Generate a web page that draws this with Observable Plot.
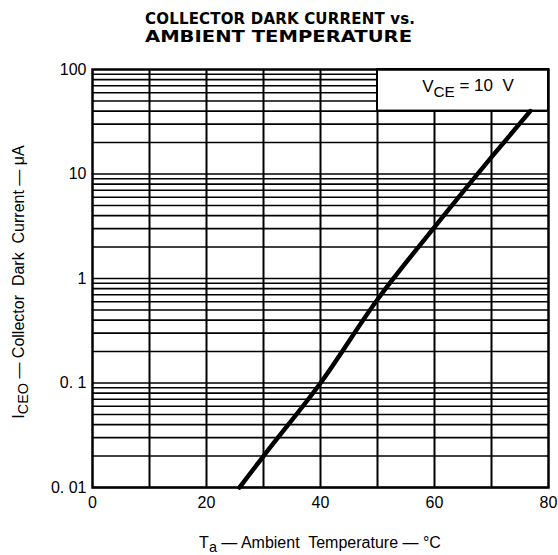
<!DOCTYPE html>
<html>
<head>
<meta charset="utf-8">
<script src="https://cdn.jsdelivr.net/npm/d3@7"></script>
<script src="https://cdn.jsdelivr.net/npm/@observablehq/plot@0.6"></script>
<style>
  html, body { margin: 0; padding: 0; background: white; }
  #chart svg { display: block; }
</style>
</head>
<body>
<div id="chart"></div>
<script>
// ---- data ----
const temps = [25.8, 30, 40, 50, 60, 70, 76.8];          // Ta (°C)
const current = [0.01, 0.02, 0.1, 0.63, 3.1, 14.5, 40];   // ICEO (µA)
const xTicks = [0, 20, 40, 60, 80];
const xGrid = [10, 20, 30, 40, 50, 60, 70];
const yTicks = [0.01, 0.1, 1, 10, 100];
const yTickLabels = ["0. 01", "0. 1", "1", "10", "100"];
const decades = [0.01, 0.1, 1, 10];
const mantissas = [1, 2, 3, 4, 5, 6, 7, 8, 9];
const legendX = [50, 80];
const legendY = [40, 100];
const titleLines = ["COLLECTOR DARK CURRENT vs.", "AMBIENT TEMPERATURE"];

const yGrid = decades.flatMap(d => mantissas.map(m => +(d * m).toPrecision(3)));
const data = temps.map((t, i) => ({t, c: current[i]}));
const legendBox = [{x1: legendX[0], x2: legendX[1], y1: legendY[0], y2: legendY[1]}];

const chart = Plot.plot({
  width: 558,
  height: 555,
  marginTop: 69,
  marginBottom: 68,
  marginLeft: 92,
  marginRight: 10,
  style: {fontFamily: "Liberation Sans, Arial, sans-serif", fontSize: "16px", background: "white", color: "black"},
  x: {domain: [0, 80], label: null},
  y: {type: "log", domain: [0.01, 100], label: null},
  marks: [
    Plot.ruleX(xGrid, {stroke: "black", strokeWidth: 2}),
    Plot.ruleY(yGrid, {stroke: "black", strokeWidth: 1.6}),
    Plot.rect(legendBox, {x1: "x1", x2: "x2", y1: "y1", y2: "y2", fill: "white", stroke: "black", strokeWidth: 2}),
    Plot.frame({stroke: "black", strokeWidth: 2.5}),
    Plot.line(data, {x: "t", y: "c", stroke: "black", strokeWidth: 4.5, curve: "monotone-x"}),
    Plot.axisX({ticks: xTicks, tickSize: 0, tickPadding: 9, tickFormat: d => String(d), fontSize: 16}),
    Plot.axisY({ticks: yTicks, tickSize: 0, tickPadding: 6, tickFormat: d => yTickLabels[yTicks.indexOf(d)], fontSize: 16})
  ]
});

document.getElementById("chart").appendChild(chart);

// ---- text with subscripts, added to the same SVG ----
const svg = d3.select(chart);
const font = "Liberation Sans, Arial, sans-serif";

// Title
titleLines.forEach((line, i) => {
  svg.append("text")
    .attr("x", 145).attr("y", 24 + i * 18)
    .attr("text-anchor", "start")
    .attr("font-family", "DejaVu Sans, sans-serif").attr("font-weight", "bold").attr("font-size", 15)
    .attr("textLength", i === 0 ? 270 : 267).attr("lengthAdjust", i === 0 ? "spacing" : "spacingAndGlyphs")
    .attr("fill", "black")
    .text(line);
});

function addSub(sel, main, sub, rest) {
  sel.append("tspan").text(main);
  sel.append("tspan").attr("dy", "0.3em").attr("font-size", "0.9em").text(sub);
  sel.append("tspan").attr("dy", "-0.3em").text(rest);
}

// X label
const xl = svg.append("text")
  .attr("x", 320).attr("y", 548).attr("text-anchor", "middle")
  .attr("font-family", font).attr("font-size", 16).attr("fill", "black");
addSub(xl, "T", "a", " \u2014 Ambient  Temperature \u2014 \u00B0C");

// Y label
const yl = svg.append("text")
  .attr("transform", "translate(24,282) rotate(-90)").attr("text-anchor", "middle")
  .attr("font-family", font).attr("font-size", 16).attr("fill", "black");
addSub(yl, "I", "CEO", " \u2014 Collector  Dark  Current \u2014 \u03BCA");

// Legend text
const lt = svg.append("text")
  .attr("x", 468).attr("y", 92).attr("text-anchor", "middle")
  .attr("font-family", font).attr("font-size", 17).attr("fill", "black");
addSub(lt, "V", "CE", " = 10  V");
</script>
</body>
</html>
